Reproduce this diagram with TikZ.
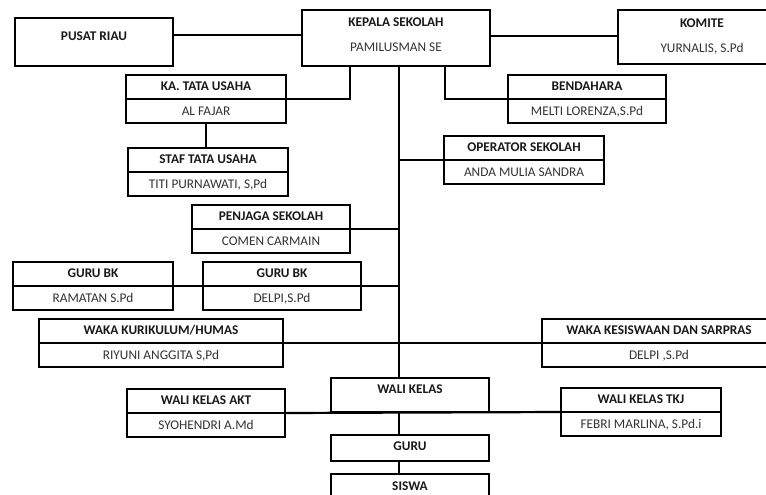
\documentclass[tikz,border=0pt]{standalone}
\usepackage{fontspec}
\setmainfont{Carlito}
\begin{document}
\begin{tikzpicture}[x=1pt,y=-1pt,
  obox/.style={draw=black,line width=2.2pt,inner sep=0pt,outer sep=0pt,rectangle},
  ln/.style={draw=black,line width=2.2pt},
  ttl/.style={font=\fontsize{13.3}{15}\selectfont\bfseries,inner sep=0pt,text height=0.64em,text depth=0pt,text=black!90},
  nme/.style={font=\fontsize{13.3}{15}\selectfont,inner sep=0pt,text height=0.64em,text depth=0pt,text=black!80}]
\useasboundingbox (0,0) rectangle (766,495);
\clip (0,0) rectangle (766,495);
\fill[white] (0,0) rectangle (766,495);
\newcommand\orgbox[7]{%
  \node[obox,minimum width=#4pt,minimum height=#5pt] (#1) at ({#2+#4/2},{#3+#5/2}) {};
  \draw[ln] (#1.west) -- (#1.east);
  \node[ttl] (#1-t) at ({#2+#4/2},{#3+#5/4}) {#6};
  \node[nme] (#1-n) at ({#2+#4/2},{#3+3*#5/4+1}) {#7};}
% single boxes
\node[obox,minimum width=158pt,minimum height=48pt] (pusat) at (94,42) {};
\node[ttl] (pusat-t) at (94,37) {PUSAT RIAU};
\node[obox,minimum width=188pt,minimum height=56pt] (kepala) at (396,38) {};
\node[ttl] (kepala-t) at (396,23) {KEPALA SEKOLAH};
\node[nme] (kepala-n) at (396,48) {PAMILUSMAN SE};
\node[obox,minimum width=168pt,minimum height=54pt] (komite) at (702,37) {};
\node[ttl] (komite-t) at (702,24) {KOMITE};
\node[nme] (komite-n) at (702,49) {YURNALIS, S.Pd};
\node[obox,minimum width=158pt,minimum height=34pt] (wk) at (410,395) {};
\node[ttl] (wk-t) at (410,390) {WALI KELAS};
\node[obox,minimum width=158pt,minimum height=26pt] (guru) at (410,448) {};
\node[ttl] (guru-t) at (410,447) {GURU};
\node[obox,minimum width=158pt,minimum height=40pt] (siswa) at (410,494) {};
\node[ttl] (siswa-t) at (410,487) {SISWA};
% two-part boxes
\orgbox{ka}{126}{75}{160}{48}{KA. TATA USAHA}{AL FAJAR}
\orgbox{bend}{508}{75}{158}{48}{BENDAHARA}{MELTI LORENZA,S.Pd}
\orgbox{staf}{128}{148}{160}{48}{STAF TATA USAHA}{TITI PURNAWATI, S,Pd}
\orgbox{op}{444}{136}{160}{48}{OPERATOR SEKOLAH}{ANDA MULIA SANDRA}
\orgbox{pen}{192}{205}{158}{48}{PENJAGA SEKOLAH}{COMEN CARMAIN}
\orgbox{bka}{13}{262}{160}{48}{GURU BK}{RAMATAN S.Pd}
\orgbox{bkb}{203}{262}{158}{48}{GURU BK}{DELPI,S.Pd}
\orgbox{wkur}{39}{319}{244}{48}{WAKA KURIKULUM/HUMAS}{RIYUNI ANGGITA S,Pd}
\orgbox{wkes}{542}{319}{234}{48}{WAKA KESISWAAN DAN SARPRAS}{DELPI ,S.Pd}
\orgbox{akt}{127}{389}{158}{48}{WALI KELAS AKT}{SYOHENDRI A.Md}
\orgbox{tkj}{561}{388}{160}{48}{WALI  KELAS TKJ}{FEBRI MARLINA, S.Pd.i}
% connectors
\coordinate (m) at (399,0);
\coordinate (kx) at (350,0);
\coordinate (bx) at (445,0);
\draw[ln] ([yshift=3pt]kepala.west) -- ([yshift=3pt]kepala.west -| pusat.east);
\draw[ln] ([yshift=2pt]kepala.east) -- ([yshift=2pt]kepala.east -| komite.west);
\draw[ln] (kepala.south -| m) -- (wk.north -| m);
\draw[ln] (kepala.south -| kx) |- (ka.east);
\draw[ln] (kepala.south -| bx) |- (bend.west);
\draw[ln] (ka.south) -- (ka.south |- staf.north);
\draw[ln] (op.west -| m) -- (op.west);
\draw[ln] (pen.east) -- (pen.east -| m);
\draw[ln] (bka.east) -- (bkb.west);
\draw[ln] (bkb.east) -- (bkb.east -| m);
\draw[ln] (wkur.east) -- (wkes.west);
\draw[ln] (akt.east) -- (tkj.west);
\draw[ln] (wk.south -| m) -- (guru.north -| m);
\draw[ln] (guru.south -| m) -- (siswa.north -| m);
\end{tikzpicture}
\end{document}
